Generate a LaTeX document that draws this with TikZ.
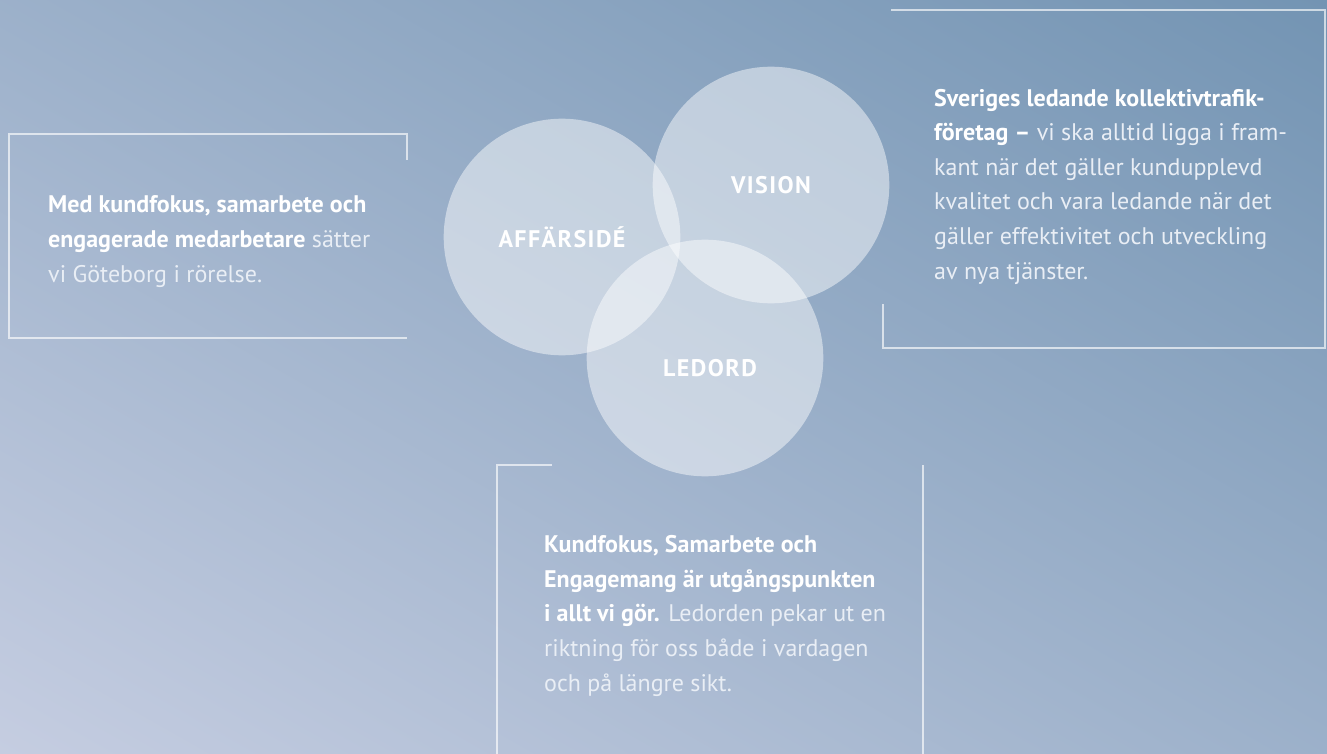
\documentclass[tikz,border=0pt]{standalone}
\usepackage{fontspec}
\setmainfont{PT Sans}
\newfontfamily\tagfont[LetterSpace=6]{PT Sans}
\usepackage{tikz}
\usetikzlibrary{positioning}

\definecolor{bgdark}{HTML}{7394B3}
\definecolor{bgmid}{HTML}{95AAC5}
\definecolor{bglight}{HTML}{C5CDE1}
\definecolor{softwhite}{HTML}{E9EEF5}

\newcommand{\keytext}[1]{{\bfseries\color{white}#1}}

\begin{document}
\begin{tikzpicture}[
    x=1pt, y=-1pt,
    ring/.style={circle, fill=white, fill opacity=0.47, draw=none, inner sep=0pt, minimum size=236.6pt},
    tag/.style={font=\tagfont\bfseries\fontsize{24}{28}\selectfont, text=white, inner sep=0pt},
    txt/.style={font=\fontsize{24}{34.6}\selectfont, text=softwhite, align=left, inner sep=0pt},
    frame/.style={draw=white, draw opacity=0.65, line width=2pt}
]

% background, light in the lower left, dark in the upper right
\useasboundingbox (0,0) rectangle (1327,754);
\begin{scope}
  \clip (0,0) rectangle (1327,754);
  \begin{scope}[transform canvas={rotate around={-29.6:(0,754)}}]
    \shade[bottom color=bglight, middle color=bgmid, top color=bgdark] (-400,754) rectangle (1200,-557.2);
  \end{scope}
\end{scope}

% circles
\node[ring] (affar) at (562,237) {};
\node[ring] (vision) at (771,185) {};
\node[ring] (ledord) at (705,358) {};

\node[tag] (affarlbl) at (affar) {AFFÄRSIDÉ};
\node[tag] (visionlbl) at (vision) {VISION};
\node[tag] (ledordlbl) at ([shift={(5,10)}]ledord) {LEDORD};

% frames
\draw[frame] (407,160) -- (407,134) -- (9,134) -- (9,338) -- (407,338);
\draw[frame] (891,10) -- (1325,10) -- (1325,348) -- (883,348) -- (883,304);
\draw[frame] (552,465) -- (497,465) -- (497,754);
\draw[frame] (923,465) -- (923,754);

% texts (anchored at the last line)
\node[txt, anchor=base west] (affartext) at (48,282)
  {\keytext{Med kundfokus, samarbete och}\\
   \keytext{engagerade medarbetare} sätter\\
   vi Göteborg i rörelse.};
\node[txt, anchor=base west] (visiontext) at (934,279)
  {\keytext{Sveriges ledande kollektivtrafik-}\\
   \keytext{företag –} vi ska alltid ligga i fram-\\
   kant när det gäller kundupplevd\\
   kvalitet och vara ledande när det\\
   gäller effektivitet och utveckling\\
   av nya tjänster.};
\node[txt, anchor=base west] (ledordtext) at (544,691)
  {\keytext{Kundfokus, Samarbete och}\\
   \keytext{Engagemang är utgångspunkten}\\
   \keytext{i allt vi gör.} Ledorden pekar ut en\\
   riktning för oss både i vardagen\\
   och på längre sikt.};

\end{tikzpicture}
\end{document}
